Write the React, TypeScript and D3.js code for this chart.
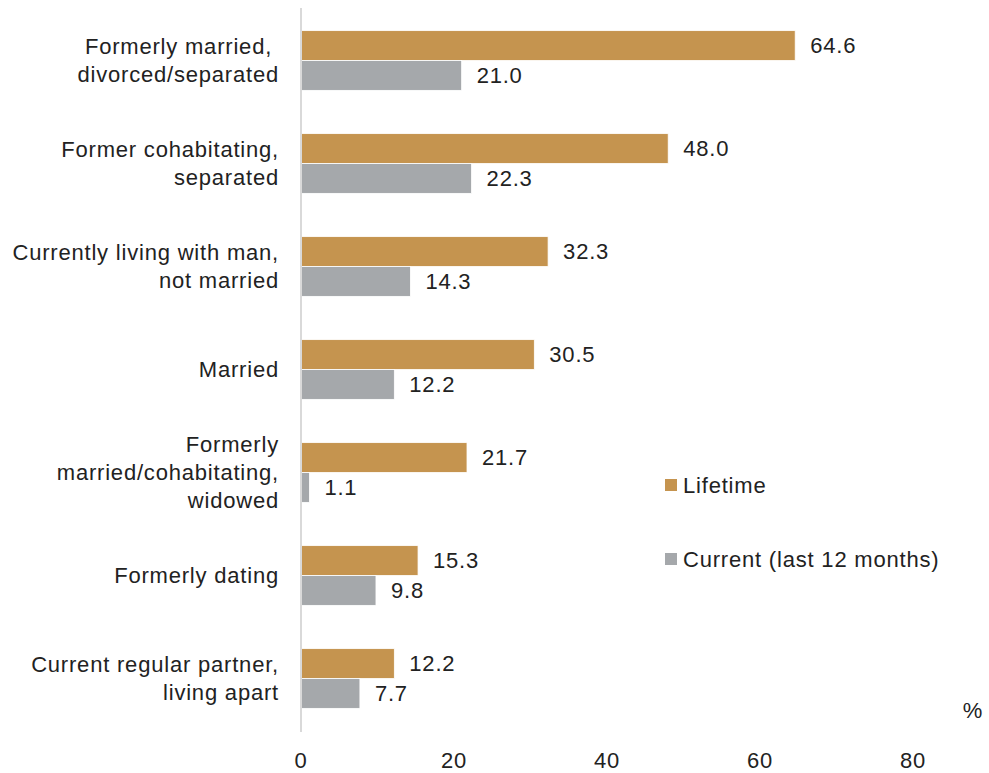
import React from "react";
import * as d3 from "d3";

const categories: string[][] = [
  ["Formerly married, ", "divorced/separated"],
  ["Former cohabitating,", "separated"],
  ["Currently living with man,", "not married"],
  ["Married"],
  ["Formerly", "married/cohabitating,", "widowed"],
  ["Formerly dating"],
  ["Current regular partner,", "living apart"],
];
const lifetime = [64.6, 48.0, 32.3, 30.5, 21.7, 15.3, 12.2];
const current = [21.0, 22.3, 14.3, 12.2, 1.1, 9.8, 7.7];
const xTicks = [0, 20, 40, 60, 80];
const seriesNames = ["Lifetime", "Current (last 12 months)"];
const colors = ["#C5944F", "#A5A8AB"];

export default function App() {
  const W = 989, H = 773;
  const font = "'Liberation Sans', Arial, sans-serif";
  const fs = 22;
  const ls = 0.8;
  const x = d3.scaleLinear().domain([0, 80]).range([301, 913]);
  const keys = categories.map((_, i) => String(i));
  const y = d3.scaleBand<string>().domain(keys).range([9, 730]).paddingInner(0.42).paddingOuter(0.21);
  const bh = y.bandwidth() / 2;
  const series = [lifetime, current];
  return (
    <svg width={W} height={H} style={{ position: "absolute", left: 0, top: 0, background: "#fff" }} fontFamily={font} letterSpacing={ls}>
      {series.map((vals, s) =>
        vals.map((v, i) => (
          <g key={`${s}-${i}`}>
            <rect x={x(0)} y={(y(keys[i]) as number) + s * bh} width={x(v) - x(0)} height={bh} fill={colors[s]} stroke="#fff" strokeWidth={0.8} />
            <text x={x(v) + 15} y={(y(keys[i]) as number) + s * bh + bh / 2} dy="0.35em" fontSize={fs} fill="#222">
              {v.toFixed(1)}
            </text>
          </g>
        ))
      )}
      <line x1={x(0)} x2={x(0)} y1={8} y2={732} stroke="#d9d9d9" strokeWidth={2} />
      {categories.map((lines, i) => {
        const cy = (y(keys[i]) as number) + y.bandwidth() / 2;
        const lh = 28;
        const start = cy - ((lines.length - 1) * lh) / 2;
        return (
          <text key={i} x={279} textAnchor="end" fontSize={fs} fill="#222">
            {lines.map((l, j) => (
              <tspan key={j} x={279} y={start + j * lh} dy="0.35em" style={{ whiteSpace: "pre" }}>
                {l}
              </tspan>
            ))}
          </text>
        );
      })}
      {xTicks.map((t) => (
        <text key={t} x={x(t)} y={760} dy="0.35em" textAnchor="middle" fontSize={fs} fill="#222">
          {t}
        </text>
      ))}
      <text x={973} y={710} dy="0.35em" textAnchor="middle" fontSize={fs} fill="#222">%</text>
      {seriesNames.map((n, i) => (
        <g key={n}>
          <rect x={665} y={479 + i * 74} width={12} height={12} fill={colors[i]} />
          <text x={683} y={485 + i * 74} dy="0.35em" fontSize={fs} fill="#222">{n}</text>
        </g>
      ))}
    </svg>
  );
}
